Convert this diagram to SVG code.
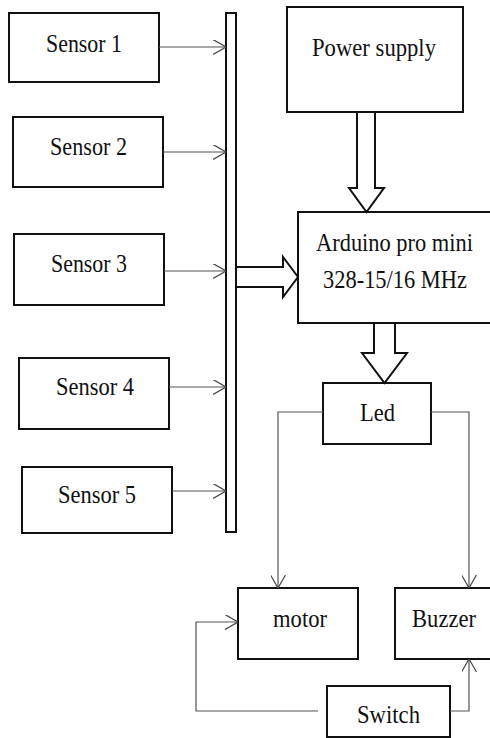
<svg xmlns="http://www.w3.org/2000/svg" width="490" height="738" viewBox="0 0 490 738">
<style>
.box{fill:#fff;stroke:#111;stroke-width:2}
.blk{fill:#fff;stroke:#111;stroke-width:2;stroke-linejoin:miter}
.lbl{font-family:"Liberation Serif","Times New Roman",serif;font-size:26px;fill:#111}
.con{fill:none;stroke:#555;stroke-width:1.2}
</style>
<defs>
<marker id="ah" viewBox="0 0 13 15" refX="13" refY="7.5" markerWidth="13" markerHeight="15" markerUnits="userSpaceOnUse" orient="auto">
<path d="M0,0 L13,7.5 L0,15" fill="none" stroke="#444" stroke-width="1.2"/>
</marker>
</defs>
<rect width="490" height="738" fill="#fff"/>
<g id="sensor1"><rect class="box" x="9" y="13" width="150" height="69"/><text class="lbl" x="46" y="52" textLength="76" lengthAdjust="spacingAndGlyphs">Sensor 1</text></g>
<g id="sensor2"><rect class="box" x="13" y="117" width="150" height="70"/><text class="lbl" x="50" y="155" textLength="77" lengthAdjust="spacingAndGlyphs">Sensor 2</text></g>
<g id="sensor3"><rect class="box" x="14" y="234" width="150" height="71"/><text class="lbl" x="51" y="272" textLength="76" lengthAdjust="spacingAndGlyphs">Sensor 3</text></g>
<g id="sensor4"><rect class="box" x="19" y="358" width="150" height="71"/><text class="lbl" x="56" y="395" textLength="78" lengthAdjust="spacingAndGlyphs">Sensor 4</text></g>
<g id="sensor5"><rect class="box" x="22" y="467" width="150" height="66"/><text class="lbl" x="58" y="503" textLength="78" lengthAdjust="spacingAndGlyphs">Sensor 5</text></g>
<g id="bus"><rect class="box" x="226" y="13" width="10" height="519"/></g>
<g id="power"><rect class="box" x="287" y="7" width="176" height="105"/><text class="lbl" x="312" y="56" textLength="124" lengthAdjust="spacingAndGlyphs">Power supply</text></g>
<g id="arduino"><rect class="box" x="298" y="212" width="200" height="111"/><text class="lbl" x="316" y="251" textLength="157" lengthAdjust="spacingAndGlyphs">Arduino pro mini</text><text class="lbl" x="323" y="288" textLength="144" lengthAdjust="spacingAndGlyphs">328-15/16 MHz</text></g>
<g id="led"><rect class="box" x="323" y="383" width="108" height="61"/><text class="lbl" x="360" y="421" textLength="35" lengthAdjust="spacingAndGlyphs">Led</text></g>
<g id="motor"><rect class="box" x="238" y="588" width="120" height="71"/><text class="lbl" x="273" y="627" textLength="54" lengthAdjust="spacingAndGlyphs">motor</text></g>
<g id="buzzer"><rect class="box" x="395" y="588" width="100" height="71"/><text class="lbl" x="412" y="627" textLength="64" lengthAdjust="spacingAndGlyphs">Buzzer</text></g>
<g id="switch"><rect class="box" x="327" y="686" width="123" height="51"/><text class="lbl" x="357" y="723" textLength="63" lengthAdjust="spacingAndGlyphs">Switch</text></g>
<g id="connectors">
<polygon class="blk" points="357,112 375,112 375,188 384,188 366.5,212 349,188 357,188"/>
<polygon class="blk" points="236,267 283,267 283,257 298,277 283,297 283,287 236,287"/>
<polygon class="blk" points="374,323 395,323 395,353 407,353 384.5,383 362,353 374,353"/>
<line class="con" x1="159" y1="47" x2="226" y2="47" marker-end="url(#ah)"/>
<line class="con" x1="163" y1="152" x2="226" y2="152" marker-end="url(#ah)"/>
<line class="con" x1="164" y1="271" x2="226" y2="271" marker-end="url(#ah)"/>
<line class="con" x1="169" y1="387" x2="226" y2="387" marker-end="url(#ah)"/>
<line class="con" x1="172" y1="491" x2="226" y2="491" marker-end="url(#ah)"/>
<polyline class="con" points="323,412 278,412 278,588" marker-end="url(#ah)"/>
<polyline class="con" points="431,412 469,412 469,588" marker-end="url(#ah)"/>
<polyline class="con" points="318,711 196,711 196,622 238,622" marker-end="url(#ah)"/>
<polyline class="con" points="450,711 469,711 469,659" marker-end="url(#ah)"/>
</g>
</svg>
